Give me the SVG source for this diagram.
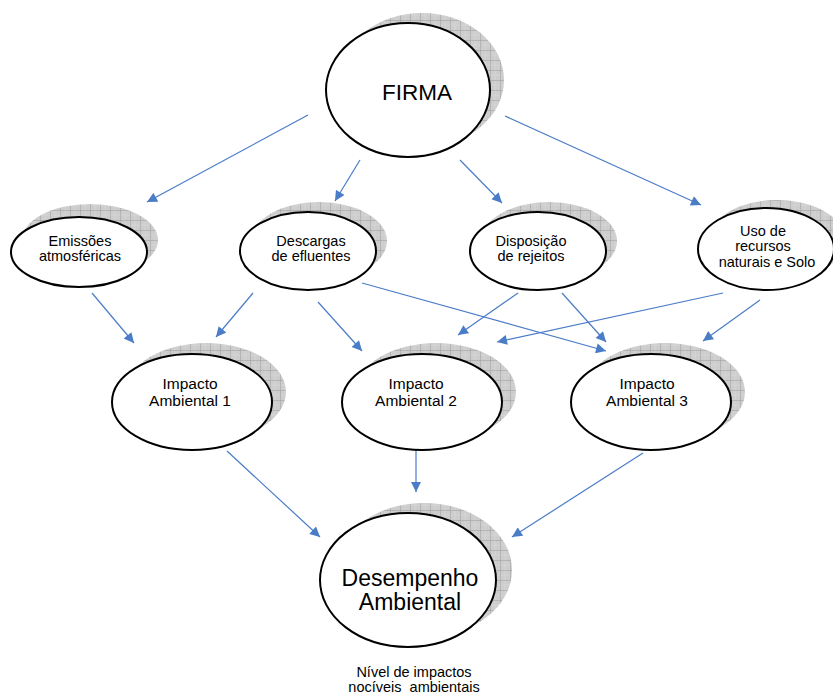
<svg xmlns="http://www.w3.org/2000/svg" width="833" height="695" viewBox="0 0 833 695">
  <style>
    .node { fill: #ffffff; stroke: #000000; stroke-width: 2; }
    .shadow { fill: url(#grid); }
    .lbl { font-family: "Liberation Sans", Arial, sans-serif; fill: #000000; text-anchor: middle; }
    .s13 { font-size: 14.5px; }
    .s15 { font-size: 15.5px; }
    .pre { white-space: pre; }
    .conn line { stroke: #4a7cc7; stroke-width: 1.2; marker-end: url(#arrow); }
  </style>
  <defs>
    <pattern id="grid" width="10" height="10" patternUnits="userSpaceOnUse">
      <rect width="10" height="10" fill="#cdcdcd"/>
      <path d="M0 0H10M0 5H10M0 0V10M5 0V10" stroke="#d9d9d9" stroke-width="0.6"/>
      <path d="M0 0.3H10M0.3 0V10" stroke="#9c9c9c" stroke-width="0.7"/>
    </pattern>
    <marker id="arrow" viewBox="0 0 10 10" refX="10" refY="5" markerWidth="11" markerHeight="10" markerUnits="userSpaceOnUse" orient="auto">
      <path d="M0 0L10 5L0 10Z" fill="#4a7cc7"/>
    </marker>
  </defs>

  <!-- connectors -->
  <g id="connectors" class="conn">
    <line x1="308" y1="115" x2="147" y2="202"/>
    <line x1="360" y1="160" x2="335" y2="201"/>
    <line x1="460" y1="160" x2="502" y2="203"/>
    <line x1="505" y1="116" x2="701" y2="205"/>
    <line x1="92" y1="293" x2="134" y2="343"/>
    <line x1="253" y1="293" x2="216" y2="337"/>
    <line x1="318" y1="302" x2="362" y2="351"/>
    <line x1="362" y1="283" x2="606" y2="351"/>
    <line x1="518" y1="293" x2="458" y2="335"/>
    <line x1="562" y1="293" x2="606" y2="342"/>
    <line x1="723" y1="293" x2="497" y2="342"/>
    <line x1="760" y1="300" x2="703" y2="341"/>
    <line x1="227" y1="451" x2="320" y2="537"/>
    <line x1="416" y1="448" x2="416" y2="492"/>
    <line x1="643" y1="453" x2="512" y2="537"/>
  </g>

  <g id="firma">
    <ellipse class="shadow" cx="422" cy="80" rx="82" ry="67"/>
    <ellipse class="node" cx="408" cy="90" rx="82" ry="67"/>
    <text class="lbl" x="417" y="100" font-size="22.5">FIRMA</text>
  </g>

  <g id="emissoes">
    <ellipse class="shadow" cx="90" cy="240" rx="68" ry="36"/>
    <ellipse class="node" cx="79" cy="252" rx="68" ry="35"/>
    <text class="lbl s13" x="80" y="246">Emissões</text>
    <text class="lbl s13" x="80" y="261">atmosféricas</text>
  </g>

  <g id="descargas">
    <ellipse class="shadow" cx="319" cy="241" rx="68" ry="39"/>
    <ellipse class="node" cx="308" cy="251" rx="68" ry="39"/>
    <text class="lbl s13" x="311" y="246">Descargas</text>
    <text class="lbl s13" x="311" y="261">de efluentes</text>
  </g>

  <g id="disposicao">
    <ellipse class="shadow" cx="549" cy="241" rx="68" ry="39"/>
    <ellipse class="node" cx="538" cy="251" rx="68" ry="39"/>
    <text class="lbl s13" x="531" y="246">Disposição</text>
    <text class="lbl s13" x="531" y="261">de rejeitos</text>
  </g>

  <g id="uso">
    <ellipse class="shadow" cx="777" cy="240" rx="68" ry="40"/>
    <ellipse class="node" cx="766" cy="249" rx="68" ry="41"/>
    <text class="lbl s13" x="763" y="236">Uso de</text>
    <text class="lbl s13" x="763" y="251">recursos</text>
    <text class="lbl s13" x="767" y="267">naturais e Solo</text>
  </g>

  <g id="impacto1">
    <ellipse class="shadow" cx="206" cy="392" rx="80" ry="49"/>
    <ellipse class="node" cx="192" cy="402" rx="80" ry="48"/>
    <text class="lbl s15" x="190" y="389">Impacto</text>
    <text class="lbl s15" x="190" y="406">Ambiental 1</text>
  </g>

  <g id="impacto2">
    <ellipse class="shadow" cx="436" cy="392" rx="80" ry="49"/>
    <ellipse class="node" cx="422" cy="402" rx="80" ry="48"/>
    <text class="lbl s15" x="416" y="389">Impacto</text>
    <text class="lbl s15" x="416" y="406">Ambiental 2</text>
  </g>

  <g id="impacto3">
    <ellipse class="shadow" cx="665" cy="392" rx="80" ry="49"/>
    <ellipse class="node" cx="651" cy="402" rx="80" ry="48"/>
    <text class="lbl s15" x="647" y="389">Impacto</text>
    <text class="lbl s15" x="647" y="406">Ambiental 3</text>
  </g>

  <g id="desempenho">
    <ellipse class="shadow" cx="424" cy="570" rx="88" ry="67"/>
    <ellipse class="node" cx="408" cy="580" rx="88" ry="67"/>
    <text class="lbl" x="410" y="586" font-size="23">Desempenho</text>
    <text class="lbl" x="410" y="610" font-size="23">Ambiental</text>
    <text class="lbl s13" x="414" y="677">Nível de impactos</text>
    <text class="lbl s13 pre" x="414" y="692">nocíveis  ambientais</text>
  </g>
</svg>
